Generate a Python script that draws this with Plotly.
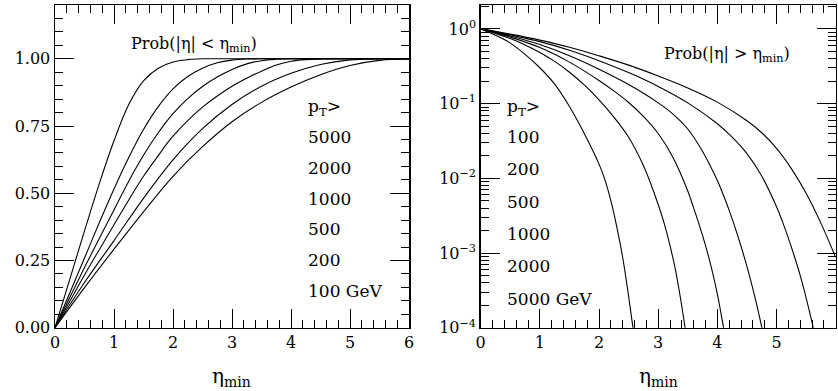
import plotly.graph_objects as go

# ---------------- data ----------------
pt_labels_left = ["5000", "2000", "1000", "500", "200", "100 GeV"]
pt_labels_right = ["100", "200", "500", "1000", "2000", "5000 GeV"]

# Left panel: Prob(|eta| < eta_min)
eta_l_5000 = [0, 0.25, 0.5, 0.75, 1.0, 1.25, 1.5, 1.75, 2.0, 2.25, 2.5, 3.0, 4.0, 5.0, 6.0]
p_l_5000 = [0, 0.180, 0.360, 0.535, 0.695, 0.830, 0.918, 0.965, 0.988, 0.997, 1.0, 1.0, 1.0, 1.0, 1.0]
eta_l_2000 = [0, 0.25, 0.5, 0.75, 1.0, 1.25, 1.5, 1.75, 2.0, 2.25, 2.5, 2.75, 3.0, 3.25, 3.5, 4.0, 5.0, 6.0]
p_l_2000 = [0, 0.129, 0.259, 0.390, 0.516, 0.633, 0.737, 0.822, 0.888, 0.934, 0.965, 0.985, 0.995, 0.999, 1.0, 1.0, 1.0, 1.0]
eta_l_1000 = [0, 0.25, 0.5, 0.75, 1.0, 1.25, 1.5, 1.75, 2.0, 2.25, 2.5, 2.75, 3.0, 3.25, 3.5, 3.75, 4.0, 5.0, 6.0]
p_l_1000 = [0, 0.112, 0.224, 0.332, 0.438, 0.545, 0.641, 0.725, 0.796, 0.852, 0.897, 0.932, 0.960, 0.981, 0.993, 0.998, 1.0, 1.0, 1.0]
eta_l_500 = [0, 0.25, 0.5, 0.75, 1.0, 1.25, 1.5, 1.75, 2.0, 2.5, 3.0, 3.25, 3.5, 3.75, 4.0, 4.25, 4.5, 5.0, 6.0]
p_l_500 = [0, 0.098, 0.196, 0.290, 0.383, 0.475, 0.563, 0.640, 0.712, 0.820, 0.898, 0.928, 0.954, 0.977, 0.991, 0.997, 0.999, 1.0, 1.0]
eta_l_200 = [0, 0.5, 1.0, 1.5, 2.0, 2.5, 3.0, 3.5, 4.0, 4.5, 5.0, 5.5, 6.0]
p_l_200 = [0, 0.168, 0.324, 0.481, 0.624, 0.740, 0.830, 0.898, 0.946, 0.979, 0.996, 1.0, 1.0]
eta_l_100 = [0, 0.5, 1.0, 1.5, 2.0, 2.5, 3.0, 3.5, 4.0, 4.5, 5.0, 5.5, 6.0]
p_l_100 = [0, 0.149, 0.292, 0.431, 0.563, 0.673, 0.766, 0.838, 0.895, 0.941, 0.975, 0.994, 0.999]

# Right panel: Prob(|eta| > eta_min), given as log10 of the probability
eta_r_5000 = [0, 0.25, 0.5, 0.75, 1.0, 1.25, 1.5, 1.75, 2.0, 2.1, 2.2, 2.3, 2.4, 2.5, 2.6]
lg_r_5000 = [0, -0.085, -0.19, -0.34, -0.52, -0.74, -1.04, -1.40, -1.81, -2.02, -2.30, -2.65, -3.06, -3.58, -4.15]
eta_r_2000 = [0, 0.25, 0.5, 0.75, 1.0, 1.25, 1.5, 1.75, 2.0, 2.25, 2.5, 2.75, 3.0, 3.1, 3.2, 3.3, 3.4, 3.5]
lg_r_2000 = [0, -0.06, -0.13, -0.215, -0.315, -0.435, -0.58, -0.75, -0.95, -1.18, -1.45, -1.83, -2.35, -2.60, -2.90, -3.26, -3.72, -4.25]
eta_r_1000 = [0, 0.5, 1.0, 1.5, 2.0, 2.25, 2.5, 2.75, 3.0, 3.25, 3.5, 3.6, 3.7, 3.8, 3.9, 4.0, 4.1, 4.2]
lg_r_1000 = [0, -0.11, -0.25, -0.445, -0.69, -0.83, -0.985, -1.17, -1.40, -1.72, -2.17, -2.40, -2.64, -2.90, -3.20, -3.55, -3.98, -4.45]
eta_r_500 = [0, 0.5, 1.0, 1.5, 2.0, 2.5, 3.0, 3.25, 3.5, 3.75, 4.0, 4.1, 4.2, 4.3, 4.4, 4.5, 4.6, 4.7, 4.8]
lg_r_500 = [0, -0.095, -0.21, -0.36, -0.54, -0.745, -0.99, -1.14, -1.34, -1.64, -2.03, -2.22, -2.43, -2.66, -2.91, -3.18, -3.48, -3.81, -4.18]
eta_r_200 = [0, 0.5, 1.0, 1.5, 2.0, 2.5, 3.0, 3.5, 4.0, 4.25, 4.5, 4.75, 5.0, 5.1, 5.2, 5.3, 5.4, 5.5, 5.6, 5.7]
lg_r_200 = [0, -0.08, -0.17, -0.285, -0.425, -0.585, -0.77, -0.99, -1.27, -1.45, -1.67, -1.97, -2.38, -2.58, -2.80, -3.04, -3.30, -3.60, -3.93, -4.30]
eta_r_100 = [0, 0.5, 1.0, 1.5, 2.0, 2.5, 3.0, 3.5, 4.0, 4.5, 4.75, 5.0, 5.25, 5.5, 5.75, 6.0]
lg_r_100 = [0, -0.07, -0.15, -0.245, -0.36, -0.485, -0.63, -0.79, -0.98, -1.23, -1.39, -1.60, -1.87, -2.20, -2.60, -3.06]

left_ticks = [0, 0.25, 0.5, 0.75, 1.0]
left_ticktext = ["0.00", "0.25", "0.50", "0.75", "1.00"]
right_ticks = [1, 1e-1, 1e-2, 1e-3, 1e-4]
right_ticktext = ["10<sup>0</sup>", "10<sup>\u22121</sup>", "10<sup>\u22122</sup>",
                  "10<sup>\u22123</sup>", "10<sup>\u22124</sup>"]
x_ticks = [0, 1, 2, 3, 4, 5, 6]

# ---------------- figure ----------------
W, H = 838, 391
FONT = "DejaVu Serif"

fig = go.Figure()
left_series = [(eta_l_5000, p_l_5000), (eta_l_2000, p_l_2000), (eta_l_1000, p_l_1000),
               (eta_l_500, p_l_500), (eta_l_200, p_l_200), (eta_l_100, p_l_100)]
for xs, ys in left_series:
    fig.add_trace(go.Scatter(x=xs, y=ys, mode="lines", xaxis="x", yaxis="y",
                             line=dict(color="black", width=1.1, shape="spline", smoothing=1.0),
                             showlegend=False, hoverinfo="skip"))
right_series = [(eta_r_5000, lg_r_5000), (eta_r_2000, lg_r_2000), (eta_r_1000, lg_r_1000),
                (eta_r_500, lg_r_500), (eta_r_200, lg_r_200), (eta_r_100, lg_r_100)]
for xs, lg in right_series:
    fig.add_trace(go.Scatter(x=xs, y=[10 ** v for v in lg], mode="lines", xaxis="x2", yaxis="y2",
                             line=dict(color="black", width=1.1, shape="spline", smoothing=1.0),
                             showlegend=False, hoverinfo="skip"))

def px_x(p):
    return p / W

def px_y(p):
    return 1 - p / H

xl0, xl1 = 55, 409
xr0, xr1 = 480.7, 835.7
yt, yb = 5, 327.7

common_axis = dict(showline=True, linecolor="black", linewidth=1.5, mirror="allticks",
                   ticks="inside", tickcolor="black", tickwidth=1, ticklen=19,
                   showgrid=False, zeroline=False, automargin=False,
                   tickfont=dict(family=FONT, size=16, color="black"))

fig.update_layout(
    width=W, height=H, margin=dict(l=0, r=0, t=0, b=0, autoexpand=False),
    paper_bgcolor="white", plot_bgcolor="white",
    xaxis=dict(domain=[px_x(xl0), px_x(xl1)], range=[0, 6], tickvals=x_ticks, anchor="y",
               minor=dict(dtick=0.2, ticks="inside", ticklen=8, tickcolor="black", tickwidth=1),
               **common_axis),
    yaxis=dict(domain=[px_y(yb), px_y(yt)], range=[0, 1.2], tickvals=left_ticks,
               ticktext=left_ticktext, anchor="x",
               minor=dict(dtick=0.05, tick0=0, ticks="inside", ticklen=8, tickcolor="black", tickwidth=1),
               **common_axis),
    xaxis2=dict(domain=[px_x(xr0), px_x(xr1)], range=[0, 6], tickvals=x_ticks, anchor="y2",
                minor=dict(dtick=0.2, ticks="inside", ticklen=8, tickcolor="black", tickwidth=1),
                **common_axis),
    yaxis2=dict(domain=[px_y(yb), px_y(yt)], type="log", range=[-4, 0.32], tickvals=right_ticks,
                ticktext=right_ticktext, anchor="x2",
                minor=dict(dtick="D1", ticks="inside", ticklen=8, tickcolor="black", tickwidth=1),
                **common_axis),
)

ann_font = dict(family=FONT, size=17, color="black")
anns = []
anns.append(dict(text="Prob(|\u03b7| < \u03b7<sub>min</sub>)", x=px_x(194), y=px_y(45),
                 xanchor="center", yanchor="middle", font=dict(family=FONT, size=16, color="black")))
anns.append(dict(text="p<sub>T</sub>>", x=px_x(306), y=px_y(108), xanchor="left", yanchor="middle"))
for i, t in enumerate(pt_labels_left):
    anns.append(dict(text=t, x=px_x(306), y=px_y(137 + 30.8 * i), xanchor="left", yanchor="middle"))
anns.append(dict(text="Prob(|\u03b7| > \u03b7<sub>min</sub>)", x=px_x(727), y=px_y(55),
                 xanchor="center", yanchor="middle", font=dict(family=FONT, size=16, color="black")))
anns.append(dict(text="p<sub>T</sub>>", x=px_x(505), y=px_y(108), xanchor="left", yanchor="middle"))
for i, t in enumerate(pt_labels_right):
    anns.append(dict(text=t, x=px_x(505), y=px_y(137 + 32.3 * i), xanchor="left", yanchor="middle"))
anns.append(dict(text="\u03b7<sub>min</sub>", x=px_x((xl0 + xl1) / 2), y=px_y(377),
                 xanchor="center", yanchor="middle", font=dict(family=FONT, size=20, color="black")))
anns.append(dict(text="\u03b7<sub>min</sub>", x=px_x((xr0 + xr1) / 2), y=px_y(377),
                 xanchor="center", yanchor="middle", font=dict(family=FONT, size=20, color="black")))
for a in anns:
    a.setdefault("font", ann_font)
    a.update(xref="paper", yref="paper", showarrow=False)
fig.update_layout(annotations=anns)

fig.write_html("out.html", config={"displayModeBar": False, "staticPlot": True},
               post_script="document.body.style.margin='0';document.body.style.overflow='hidden';")
